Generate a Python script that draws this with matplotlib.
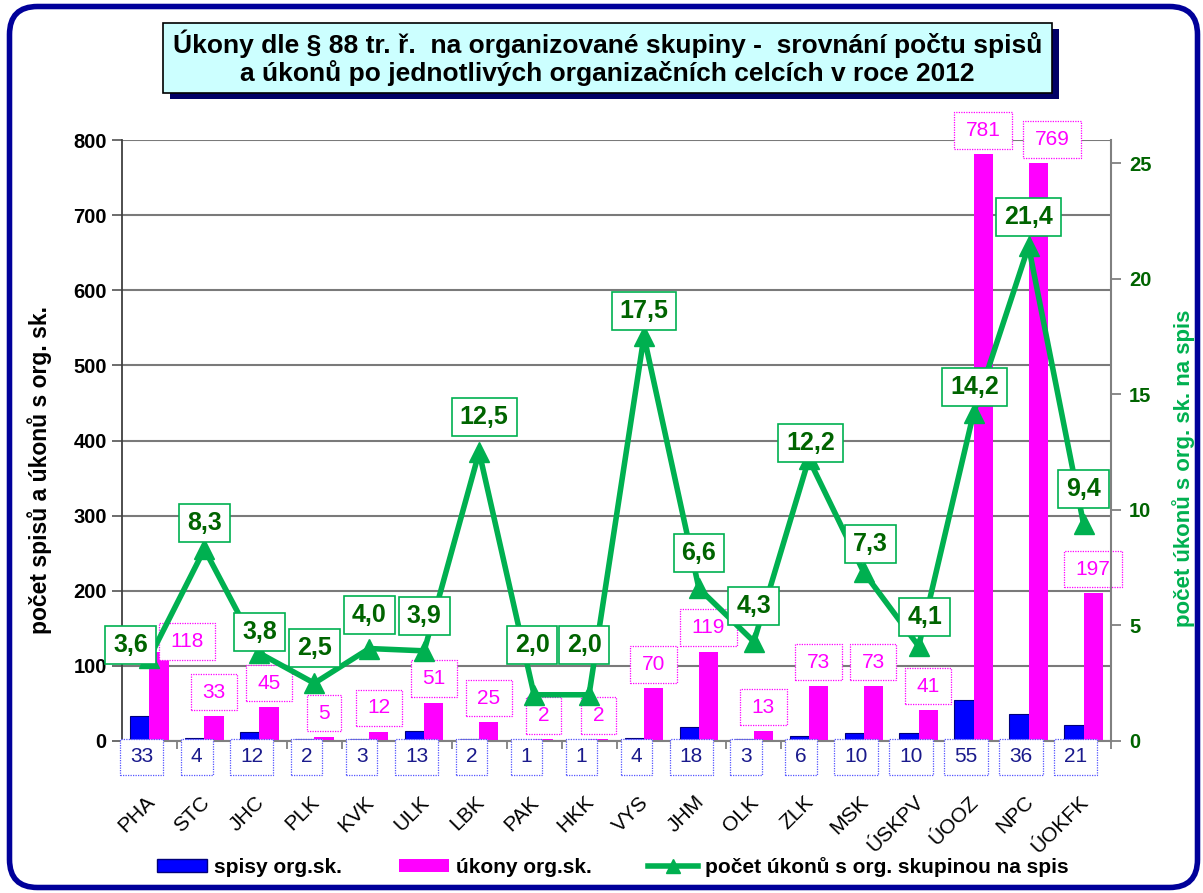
import matplotlib
matplotlib.use('Agg')
import matplotlib.pyplot as plt
from matplotlib.patches import FancyBboxPatch, Rectangle, Patch
from matplotlib.lines import Line2D
from matplotlib.path import Path
from matplotlib.transforms import IdentityTransform, ScaledTranslation
from matplotlib import font_manager
import numpy as np

# ---------------- data ----------------
categories = ["PHA", "STC", "JHC", "PLK", "KVK", "ULK", "LBK", "PAK", "HKK",
              "VYS", "JHM", "OLK", "ZLK", "MSK", "ÚSKPV", "ÚOOZ", "NPC", "ÚOKFK"]
spisy = [33, 4, 12, 2, 3, 13, 2, 1, 1, 4, 18, 3, 6, 10, 10, 55, 36, 21]
ukony = [118, 33, 45, 5, 12, 51, 25, 2, 2, 70, 119, 13, 73, 73, 41, 781, 769, 197]
pomer = [3.6, 8.3, 3.8, 2.5, 4.0, 3.9, 12.5, 2.0, 2.0, 17.5, 6.6, 4.3, 12.2,
         7.3, 4.1, 14.2, 21.4, 9.4]
left_ticks = [0, 100, 200, 300, 400, 500, 600, 700, 800]
right_ticks = [0, 5, 10, 15, 20, 25]

title_text = ("Úkony dle § 88 tr. ř.  na organizované skupiny -  srovnání počtu spisů\n"
              "a úkonů po jednotlivých organizačních celcích v roce 2012")
left_label = "počet spisů a úkonů s org. sk."
right_label = "počet úkonů s org. sk. na spis"
legend_labels = ["spisy org.sk.", "úkony org.sk.", "počet úkonů s org. skupinou na spis"]

# ---------------- styling ----------------
available = {f.name for f in font_manager.fontManager.ttflist}
BASE = 'Liberation Sans' if 'Liberation Sans' in available else 'DejaVu Sans'
plt.rcParams['font.family'] = [BASE, 'DejaVu Sans']

BLUE = '#0000FF'
MAGENTA = '#FF00FF'
GREEN = '#00B050'
DKGREEN = '#006400'
FRAME = '#00009A'


def hv_box(padx, pady):
    """Rectangular box style with separate horizontal / vertical padding."""
    def style(x0, y0, width, height, mutation_size):
        dx = mutation_size * padx
        dy = mutation_size * pady
        x0, y0 = x0 - dx, y0 - dy
        w, h = width + 2 * dx, height + 2 * dy
        return Path([(x0, y0), (x0 + w, y0), (x0 + w, y0 + h), (x0, y0 + h), (x0, y0)],
                    closed=True)
    return style


W, H = 1203, 893
DPI = 100
fig = plt.figure(figsize=(W / DPI, H / DPI), dpi=DPI)
fig.patch.set_facecolor('white')

# outer rounded frame (pixel coordinates)
frame = FancyBboxPatch((9.5, 5.5), 1188, 881, boxstyle="round,pad=0,rounding_size=28",
                       transform=IdentityTransform(), facecolor='none',
                       edgecolor=FRAME, linewidth=4, zorder=10)
fig.add_artist(frame)

# title box with shadow (pixel coords, origin bottom-left)
shadow = Rectangle((170, H - 99), 889, 70, transform=IdentityTransform(),
                   facecolor='#000066', edgecolor='none', zorder=11)
tbox = Rectangle((163, H - 93), 889, 70, transform=IdentityTransform(),
                 facecolor='#CCFFFF', edgecolor='#000000', linewidth=1.2, zorder=12)
fig.add_artist(shadow)
fig.add_artist(tbox)
fig.text((163 + 889 / 2) / W, (H - 58) / H, title_text, ha='center', va='center',
         fontsize=19, fontweight='bold', linespacing=1.1, zorder=13)

# ---------------- axes ----------------
ax = fig.add_axes([122 / W, (H - 741) / H, (1111 - 122) / W, (741 - 140) / H])
ax.set_facecolor('white')
x = np.arange(len(categories))
bw = 0.35

ax.bar(x - bw / 2, spisy, width=bw, color=BLUE, edgecolor='#00007A', linewidth=0.8, zorder=2)
ax.bar(x + bw / 2, ukony, width=bw, color=MAGENTA, edgecolor='none', zorder=2)

ax.set_xlim(-0.5, len(categories) - 0.5)
ax.set_ylim(0, 800)
ax.set_yticks(left_ticks)
ax.yaxis.grid(True, color='#7a7a7a', linewidth=1.5, zorder=0)
ax.set_axisbelow(True)
for s in ['top', 'right']:
    ax.spines[s].set_visible(False)
ax.spines['left'].set_color('#404040')
ax.spines['left'].set_linewidth(1.3)
ax.spines['bottom'].set_color('#808080')
ax.spines['bottom'].set_linewidth(1.5)
ax.tick_params(axis='y', length=7, width=1.3, color='#606060', labelsize=14.5, pad=4)
for t in ax.get_yticklabels():
    t.set_fontweight('bold')

ax.set_xticks(x)
ax.set_xticklabels(categories, rotation=45, ha='right', va='top',
                   rotation_mode='anchor', fontsize=15)
ax.set_xticks(np.arange(-0.5, len(categories), 1.0), minor=True)
ax.tick_params(axis='x', which='major', length=0, pad=37)
ax.tick_params(axis='x', which='minor', length=6, width=1.3, color='#808080')
for lab in ax.get_xticklabels():
    lab.set_transform(lab.get_transform() + ScaledTranslation(-3.5 / 72, 0, fig.dpi_scale_trans))

fig.text(40 / W, (H - 470) / H, left_label, rotation=90, ha='center', va='center',
         fontsize=16.5, fontweight='bold', color='black')

# secondary axis
ax2 = ax.twinx()
ax2.set_ylim(0, 26)
ax2.set_yticks(right_ticks)
for s in ['top', 'left', 'bottom']:
    ax2.spines[s].set_visible(False)
ax2.spines['right'].set_color('#808080')
ax2.spines['right'].set_linewidth(1.5)
ax2.tick_params(axis='y', length=7, width=1.3, color='#808080', labelsize=14.5,
                labelcolor=DKGREEN, pad=6)
for t in ax2.get_yticklabels():
    t.set_fontweight('bold')
ax2.plot(x, pomer, color=GREEN, linewidth=4.0, marker='^', markersize=14,
         markerfacecolor=GREEN, markeredgecolor=GREEN, zorder=5)
fig.text(1184 / W, (H - 468) / H, right_label, rotation=90, ha='center', va='center',
         fontsize=16, fontweight='bold', color=GREEN)

# ---------------- data labels ----------------
px = 72 / DPI  # points per pixel

mag_dx = [28] + [0] * 15 + [14, 0]
mag_up = [11] + [24] * 17
for i, v in enumerate(ukony):
    ax.annotate(f"{v}", xy=(x[i] + bw / 2, v), xytext=(mag_dx[i] * px, mag_up[i] * px),
                textcoords='offset points', ha='center', va='center',
                fontsize=15, color=MAGENTA, zorder=6,
                bbox=dict(boxstyle=hv_box(0.55, 0.42), facecolor='white',
                          edgecolor=MAGENTA, linestyle=(0, (1, 1)), linewidth=0.9))

for i, v in enumerate(spisy):
    ax.annotate(f"{v}", xy=(x[i] - bw / 2, 0), xytext=(2 * px, -16 * px),
                textcoords='offset points', ha='center', va='center',
                fontsize=15, color='#1A1A8C', zorder=6, annotation_clip=False,
                bbox=dict(boxstyle=hv_box(0.48, 0.42), facecolor='white',
                          edgecolor='#5555FF', linestyle=(0, (1, 1)), linewidth=0.9))

g_dx = [-19, 0, 0, 0, 0, 0, 5, -2, -5, 0, 0, 0, 2, 7, 6, 1, 0, 0]
g_up = [13, 26, 21, 35, 34, 35, 35, 50, 50, 25, 35, 36, 16, 28, 29, 26, 29, 35]
for i, v in enumerate(pomer):
    ax2.annotate(f"{v:.1f}".replace('.', ','), xy=(x[i], v),
                 xytext=(g_dx[i] * px, g_up[i] * px), textcoords='offset points',
                 ha='center', va='center', fontsize=18, fontweight='bold',
                 color=DKGREEN, zorder=7,
                 bbox=dict(boxstyle=hv_box(0.32, 0.28), facecolor='white',
                           edgecolor=GREEN, linewidth=1.2))

# ---------------- legend ----------------
handles = [Patch(facecolor=BLUE, edgecolor='#00007A'),
           Patch(facecolor=MAGENTA, edgecolor='none'),
           Line2D([0], [0], color=GREEN, linewidth=4.0, marker='^', markersize=10)]
leg = fig.legend(handles, legend_labels, loc='center', bbox_to_anchor=(613 / W, (H - 867) / H),
                 ncol=3, frameon=False, handlelength=2.4, handleheight=0.6,
                 handletextpad=0.35, columnspacing=2.7,
                 prop={'size': 15, 'weight': 'bold'})

fig.savefig('out.png', dpi=DPI, facecolor='white')
